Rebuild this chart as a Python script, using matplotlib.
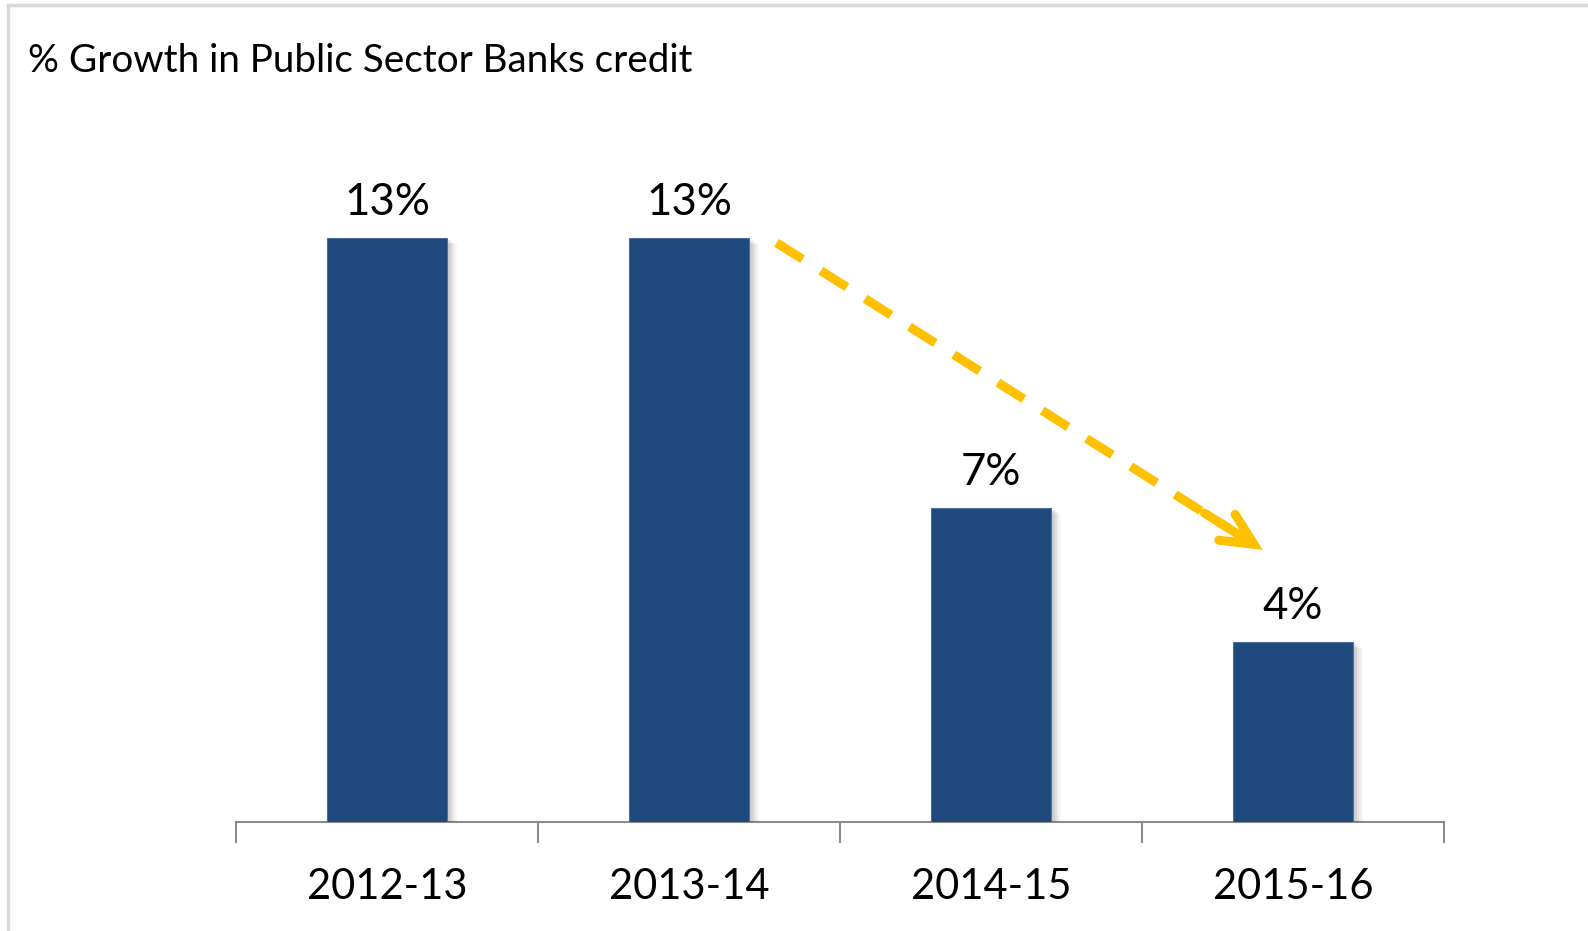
import matplotlib
matplotlib.use("Agg")
import matplotlib.pyplot as plt
import matplotlib.patheffects as pe
from matplotlib.patches import Rectangle

categories = ["2012-13", "2013-14", "2014-15", "2015-16"]
values = [13, 13, 7, 4]
value_labels = ["13%", "13%", "7%", "4%"]
title = "% Growth in Public Sector Banks credit"

plt.rcParams['font.family'] = ['Lato', 'DejaVu Sans']

W, H = 1588, 931
fig = plt.figure(figsize=(W / 100, H / 100), dpi=100)
fig.patch.set_facecolor('white')

# outer frame (top and left visible)
fig.patches.append(Rectangle((8 / W, -0.05), 1.2, 1 - 5 / H + 0.05, transform=fig.transFigure,
                             fill=False, edgecolor='#D9D9D9', linewidth=2.5, zorder=0))

ax = fig.add_axes([236 / W, 1 - 822 / H, (1444 - 236) / W, 0.7234])
x = list(range(len(categories)))
bars = ax.bar(x, values, width=0.4, color='#1F497D', edgecolor='#4F6F9A', linewidth=0.8, zorder=3)
shadow = [pe.SimplePatchShadow(offset=(o, -o * 0.6), shadow_rgbFace='#000000', alpha=a)
          for o, a in [(7, 0.03), (5.5, 0.04), (4, 0.05), (2.5, 0.07)]]
for b in bars:
    b.set_path_effects(shadow + [pe.Normal()])

ax.set_xlim(-0.5, len(categories) - 0.5)
ax.set_ylim(0, 15)
for s in ['top', 'right', 'left']:
    ax.spines[s].set_visible(False)
ax.spines['bottom'].set_color('#8C8C8C')
ax.spines['bottom'].set_linewidth(1.5)
ax.set_yticks([])

# category boundary ticks
ax.set_xticks([i - 0.5 for i in range(len(categories) + 1)], minor=False)
ax.set_xticklabels([])
ax.tick_params(axis='x', which='major', length=15, width=1.5, color='#8C8C8C', direction='out')
ax.set_xticks(x, minor=True)
ax.set_xticklabels(categories, minor=True, fontsize=30, color='black')
ax.tick_params(axis='x', which='minor', length=0, pad=33)

for xi, v, lab in zip(x, values, value_labels):
    ax.annotate(lab, (xi, v), xytext=(0, 15), textcoords='offset pixels',
                ha='center', va='bottom', fontsize=31.5, color='black')

fig.text(28 / W, 1 - 61 / H, title, fontsize=27.8, ha='left', va='center', color='black')

# trend arrow from second bar top toward last bar
x0, y0 = x[1] + 0.29, values[1] - 0.1
x1, y1 = x[3] - 0.1, values[3] + 2.06
gold = '#FFC000'
fx = x0 + (x1 - x0) * 0.93
fy = y0 + (y1 - y0) * 0.93
ax.plot([x0, fx], [y0, fy], color=gold, linewidth=6.5, linestyle=(0, (3.4, 2.4)),
        solid_capstyle='butt', dash_capstyle='butt', zorder=4, clip_on=False)
ax.annotate('', xy=(x1, y1), xytext=(x0 + (x1 - x0) * 0.88, y0 + (y1 - y0) * 0.88),
            arrowprops=dict(arrowstyle='->,head_length=2.3,head_width=1.1', color=gold,
                            lw=6.5, capstyle='round', joinstyle='miter', shrinkA=0, shrinkB=0),
            zorder=4)

fig.savefig('out.png', dpi=100, facecolor='white')
